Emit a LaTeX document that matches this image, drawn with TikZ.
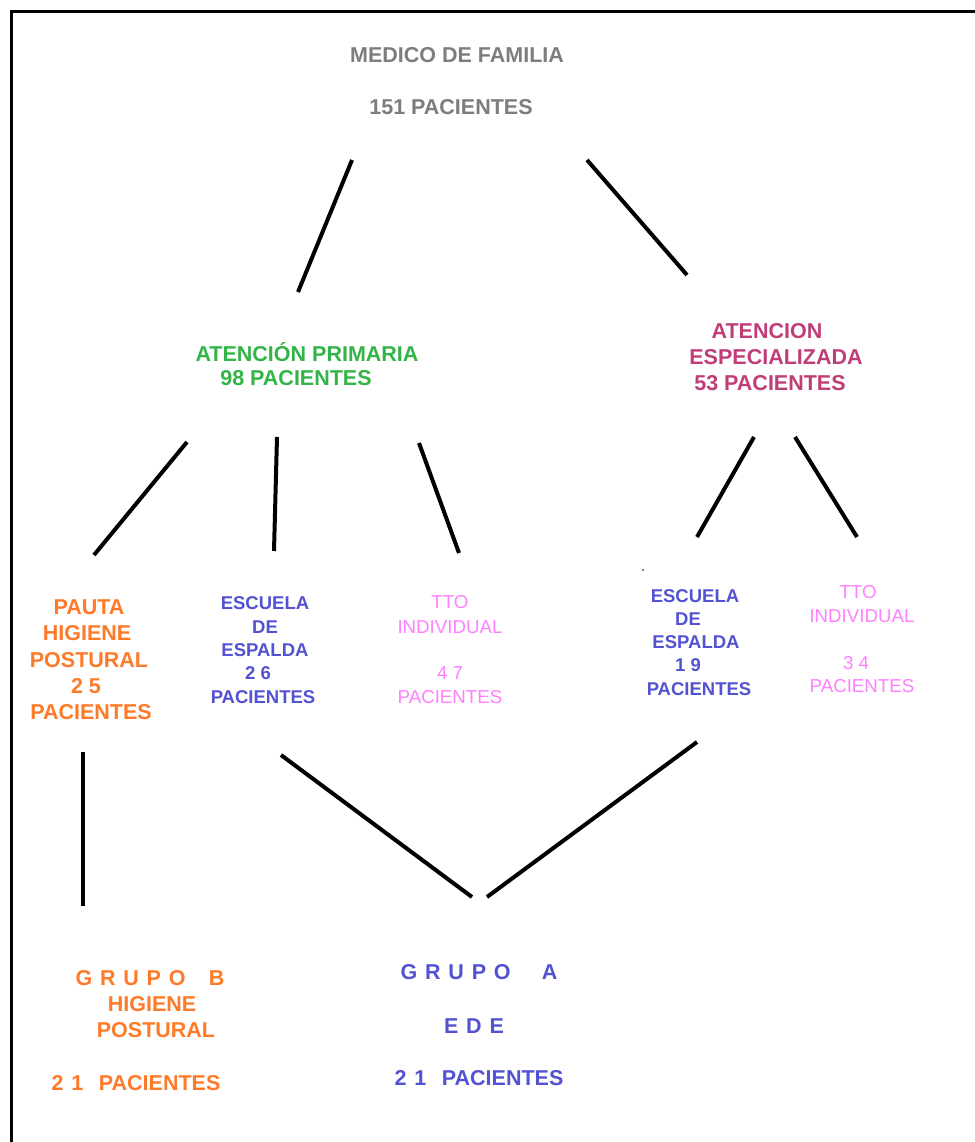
\documentclass[tikz,border=0pt]{standalone}
\usepackage{fontspec}
\setmainfont{Liberation Sans}
\definecolor{cgray}{RGB}{125,125,125}
\definecolor{cgreen}{RGB}{50,180,70}
\definecolor{cmag}{RGB}{192,62,120}
\definecolor{corange}{RGB}{255,122,40}
\definecolor{cblue}{RGB}{82,82,210}
\definecolor{cpink}{RGB}{255,128,255}
\newcommand{\gsp}{\hspace{7.8pt}}
\tikzset{
  big/.style={inner sep=0pt, font=\fontsize{21.5}{21.5}\selectfont\bfseries},
  mid/.style={inner sep=0pt, font=\fontsize{18.5}{18.5}\selectfont\bfseries},
  midr/.style={inner sep=0pt, font=\fontsize{18.7}{18.7}\selectfont},
  link/.style={line width=4pt, black},
}
\begin{document}
\begin{tikzpicture}[x=1pt,y=-1pt]
\useasboundingbox (0,0) rectangle (974,1142);
\fill[white] (0,0) rectangle (974,1142);
\draw[line width=2.5pt] (11.5,1145) -- (11.5,11.5) -- (976,11.5);

% top
\node[big, cgray] (mf1) at (457,55) {MEDICO DE FAMILIA};
\node[big, cgray] (mf2) at (451,107) {151 PACIENTES};

% atencion primaria
\node[big, cgreen] (ap1) at (307,352) {ATENCIÓN PRIMARIA};
\node[big, cgreen] (ap2) at (296,378) {98 PACIENTES};

% atencion especializada
\node[big, cmag] (ae1) at (767,331) {ATENCION};
\node[big, cmag] (ae2) at (776,357) {ESPECIALIZADA};
\node[big, cmag] (ae3) at (770,383) {53 PACIENTES};

% pauta higiene postural
\node[big, corange] (ph1) at (89,607) {PAUTA};
\node[big, corange] (ph2) at (87,633) {HIGIENE};
\node[big, corange] (ph3) at (89,660) {POSTURAL};
\node[big, corange] (ph4) at (86,686) {2 5};
\node[big, corange] (ph5) at (91,712) {PACIENTES};

% escuela de espalda (AP)
\node[mid, cblue] (ea1) at (265,603) {ESCUELA};
\node[mid, cblue] (ea2) at (265,627) {DE};
\node[mid, cblue] (ea3) at (265,650) {ESPALDA};
\node[mid, cblue] (ea4) at (258,673) {2 6};
\node[mid, cblue] (ea5) at (263,697) {PACIENTES};

% tto individual (AP)
\node[midr, cpink] (ta1) at (450,602) {TTO};
\node[midr, cpink] (ta2) at (450,627) {INDIVIDUAL};
\node[midr, cpink] (ta3) at (450,673) {4 7};
\node[midr, cpink] (ta4) at (450,697) {PACIENTES};

% escuela de espalda (AE)
\node[mid, cblue] (eb1) at (695,596) {ESCUELA};
\node[mid, cblue] (eb2) at (688,619) {DE};
\node[mid, cblue] (eb3) at (696,642) {ESPALDA};
\node[mid, cblue] (eb4) at (688,665) {1 9};
\node[mid, cblue] (eb5) at (699,689) {PACIENTES};
\fill (643,570) circle (0.8);

% tto individual (AE)
\node[midr, cpink] (tb1) at (858,592) {TTO};
\node[midr, cpink] (tb2) at (862,616) {INDIVIDUAL};
\node[midr, cpink] (tb3) at (856,663) {3 4};
\node[midr, cpink] (tb4) at (862,686) {PACIENTES};

% grupo B
\node[big, corange] (gb1) at (150,978) {G\gsp R\gsp U\gsp P\gsp O\gsp\gsp\gsp B};
\node[big, corange] (gb2) at (152,1004) {HIGIENE};
\node[big, corange] (gb3) at (156,1030) {POSTURAL};
\node[big, corange] (gb4) at (136,1083) {2\gsp 1\gsp\gsp PACIENTES};

% grupo A
\node[big, cblue] (ga1) at (479,972) {G\gsp R\gsp U\gsp P\gsp O\gsp\gsp\gsp\gsp A};
\node[big, cblue] (ga2) at (474,1026) {E\gsp D\gsp E};
\node[big, cblue] (ga3) at (479,1078) {2\gsp 1\gsp\gsp PACIENTES};

% connector end points
\coordinate (c1a) at (352,160); \coordinate (c1b) at (298,292);
\coordinate (c2a) at (587,160); \coordinate (c2b) at (687,275);
\coordinate (c3a) at (187,442); \coordinate (c3b) at (94,555);
\coordinate (c4a) at (277,437); \coordinate (c4b) at (274,551);
\coordinate (c5a) at (419,443); \coordinate (c5b) at (459,553);
\coordinate (c6a) at (754,437); \coordinate (c6b) at (697,537);
\coordinate (c7a) at (795,437); \coordinate (c7b) at (857,537);
\coordinate (c8a) at (83,752);  \coordinate (c8b) at (83,906);
\coordinate (c9a) at (281,755); \coordinate (c9b) at (472,897);
\coordinate (c10a) at (697,742); \coordinate (c10b) at (487,897);

\draw[link] (c1a) -- (c1b);
\draw[link] (c2a) -- (c2b);
\draw[link] (c3a) -- (c3b);
\draw[link] (c4a) -- (c4b);
\draw[link] (c5a) -- (c5b);
\draw[link] (c6a) -- (c6b);
\draw[link] (c7a) -- (c7b);
\draw[link] (c8a) -- (c8b);
\draw[link] (c9a) -- (c9b);
\draw[link] (c10a) -- (c10b);
\end{tikzpicture}
\end{document}
